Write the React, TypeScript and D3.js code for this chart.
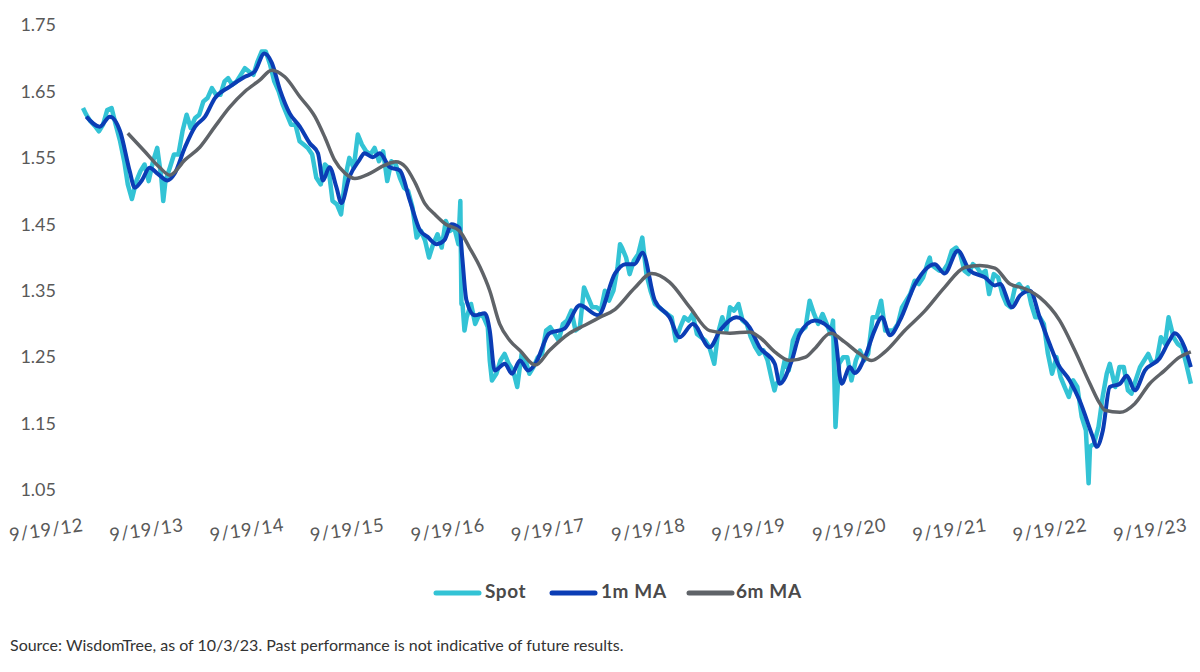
import React from 'react';
import * as d3 from 'd3';

// GBP/USD spot (roughly twice a month, plus spikes)
const spotDates = [
  '2012-09-19', '2012-10-01', '2012-10-16', '2012-11-01', '2012-11-16', '2012-12-01', '2012-12-16',
  '2013-01-01', '2013-01-16', '2013-02-01', '2013-02-16', '2013-03-01', '2013-03-16', '2013-04-01', '2013-04-16',
  '2013-05-01', '2013-05-16', '2013-06-01', '2013-06-16', '2013-07-01', '2013-07-08', '2013-07-16', '2013-08-01',
  '2013-08-16', '2013-09-01', '2013-09-16', '2013-10-01', '2013-10-16', '2013-11-01', '2013-11-16', '2013-12-01', '2013-12-16',
  '2014-01-01', '2014-01-16', '2014-02-01', '2014-02-16', '2014-03-01', '2014-03-16', '2014-04-01', '2014-04-16',
  '2014-05-01', '2014-05-16', '2014-06-01', '2014-06-16', '2014-07-01', '2014-07-16', '2014-08-01', '2014-08-16',
  '2014-09-01', '2014-09-16', '2014-10-01', '2014-10-16', '2014-11-01', '2014-11-16', '2014-12-01', '2014-12-16',
  '2015-01-01', '2015-01-16', '2015-02-01', '2015-02-16', '2015-03-01', '2015-03-16', '2015-04-01', '2015-04-16',
  '2015-05-01', '2015-05-16', '2015-06-01', '2015-06-16', '2015-07-01', '2015-07-16', '2015-08-01', '2015-08-16',
  '2015-09-01', '2015-09-16', '2015-10-01', '2015-10-16', '2015-11-01', '2015-11-16', '2015-12-01', '2015-12-16',
  '2016-01-01', '2016-01-16', '2016-02-01', '2016-02-16', '2016-03-01', '2016-03-16', '2016-04-01', '2016-04-16',
  '2016-05-01', '2016-05-16', '2016-06-01', '2016-06-16', '2016-06-23', '2016-06-27', '2016-07-01', '2016-07-08',
  '2016-07-16', '2016-08-01', '2016-08-16', '2016-09-01', '2016-09-16', '2016-10-01', '2016-10-08', '2016-10-16',
  '2016-11-01', '2016-11-16', '2016-12-01', '2016-12-16',
  '2017-01-01', '2017-01-16', '2017-02-01', '2017-02-16', '2017-03-01', '2017-03-16', '2017-04-01', '2017-04-16',
  '2017-05-01', '2017-05-16', '2017-06-01', '2017-06-16', '2017-07-01', '2017-07-16', '2017-08-01', '2017-08-16',
  '2017-09-01', '2017-09-16', '2017-10-01', '2017-10-16', '2017-11-01', '2017-11-16', '2017-12-01', '2017-12-16',
  '2018-01-01', '2018-01-16', '2018-01-25', '2018-02-01', '2018-02-16', '2018-03-01', '2018-03-16', '2018-04-01',
  '2018-04-16', '2018-05-01', '2018-05-16', '2018-06-01', '2018-06-16', '2018-07-01', '2018-07-16', '2018-08-01',
  '2018-08-16', '2018-09-01', '2018-09-16', '2018-10-01', '2018-10-16', '2018-11-01', '2018-11-16', '2018-12-01', '2018-12-16',
  '2019-01-03', '2019-01-16', '2019-02-01', '2019-02-16', '2019-03-01', '2019-03-16', '2019-04-01', '2019-04-16',
  '2019-05-01', '2019-05-16', '2019-06-01', '2019-06-16', '2019-07-01', '2019-07-16', '2019-08-01', '2019-08-10',
  '2019-08-16', '2019-09-01', '2019-09-16', '2019-10-01', '2019-10-16', '2019-11-01', '2019-11-16', '2019-12-01', '2019-12-16',
  '2020-01-01', '2020-01-16', '2020-02-01', '2020-02-16', '2020-03-01', '2020-03-10', '2020-03-19', '2020-03-25',
  '2020-04-01', '2020-04-16', '2020-05-01', '2020-05-16', '2020-06-01', '2020-06-16', '2020-07-01', '2020-07-16',
  '2020-08-01', '2020-08-16', '2020-09-01', '2020-09-16', '2020-10-01', '2020-10-16', '2020-11-01', '2020-11-16',
  '2020-12-01', '2020-12-16',
  '2021-01-01', '2021-01-16', '2021-02-01', '2021-02-16', '2021-02-25', '2021-03-01', '2021-03-16', '2021-04-01',
  '2021-04-16', '2021-05-01', '2021-05-16', '2021-06-01', '2021-06-16', '2021-07-01', '2021-07-16', '2021-08-01',
  '2021-08-16', '2021-09-01', '2021-09-16', '2021-09-29', '2021-10-16', '2021-11-01', '2021-11-16', '2021-12-01', '2021-12-16',
  '2022-01-01', '2022-01-16', '2022-02-01', '2022-02-16', '2022-03-01', '2022-03-16', '2022-04-01', '2022-04-16',
  '2022-05-01', '2022-05-16', '2022-06-01', '2022-06-16', '2022-07-01', '2022-07-16', '2022-08-01', '2022-08-16',
  '2022-09-01', '2022-09-16', '2022-09-26', '2022-10-01', '2022-10-16', '2022-11-01', '2022-11-16', '2022-12-01', '2022-12-12',
  '2023-01-01', '2023-01-16', '2023-02-01', '2023-02-16', '2023-03-01', '2023-03-16', '2023-04-01', '2023-04-16',
  '2023-05-01', '2023-05-16', '2023-06-01', '2023-06-16', '2023-07-01', '2023-07-14', '2023-08-01', '2023-08-16',
  '2023-09-01', '2023-09-16', '2023-10-03',
];
const spotValues = [
  1.625, 1.615, 1.605, 1.598, 1.59, 1.6, 1.622,
  1.625, 1.6, 1.575, 1.545, 1.51, 1.488, 1.515, 1.53,
  1.54, 1.515, 1.545, 1.565, 1.52, 1.485, 1.515, 1.535,
  1.555, 1.555, 1.59, 1.615, 1.595, 1.61, 1.615, 1.635, 1.64,
  1.655, 1.645, 1.645, 1.665, 1.67, 1.66, 1.665, 1.675,
  1.685, 1.68, 1.675, 1.695, 1.71, 1.71, 1.69, 1.665,
  1.65, 1.63, 1.615, 1.6, 1.6, 1.575, 1.57, 1.565,
  1.555, 1.52, 1.51, 1.54, 1.535, 1.485, 1.48, 1.465,
  1.52, 1.55, 1.535, 1.585, 1.57, 1.56, 1.555, 1.565,
  1.545, 1.56, 1.515, 1.545, 1.54, 1.52, 1.505, 1.5,
  1.475, 1.43, 1.44, 1.425, 1.4, 1.42, 1.435, 1.415,
  1.455, 1.44, 1.445, 1.42, 1.485, 1.33, 1.33, 1.29,
  1.31, 1.33, 1.3, 1.315, 1.31, 1.295, 1.245, 1.215,
  1.225, 1.245, 1.255, 1.24,
  1.23, 1.205, 1.255, 1.245, 1.225, 1.235, 1.25, 1.255,
  1.29, 1.295, 1.285, 1.275, 1.3, 1.305, 1.32, 1.29,
  1.295, 1.355, 1.34, 1.325, 1.325, 1.32, 1.35, 1.335,
  1.35, 1.385, 1.42, 1.415, 1.4, 1.375, 1.395, 1.405,
  1.43, 1.375, 1.35, 1.33, 1.325, 1.32, 1.315, 1.31,
  1.275, 1.295, 1.31, 1.305, 1.315, 1.285, 1.28, 1.275, 1.265,
  1.24, 1.285, 1.31, 1.29, 1.325, 1.32, 1.33, 1.305,
  1.3, 1.28, 1.265, 1.255, 1.26, 1.245, 1.215, 1.2,
  1.21, 1.215, 1.245, 1.23, 1.275, 1.29, 1.29, 1.295, 1.335,
  1.315, 1.3, 1.315, 1.3, 1.285, 1.305, 1.145, 1.19,
  1.24, 1.25, 1.25, 1.215, 1.245, 1.26, 1.245, 1.255,
  1.31, 1.31, 1.335, 1.29, 1.29, 1.29, 1.3, 1.325,
  1.335, 1.345,
  1.365, 1.36, 1.37, 1.39, 1.4, 1.39, 1.385, 1.38,
  1.38, 1.39, 1.41, 1.415, 1.405, 1.38, 1.375, 1.39,
  1.385, 1.375, 1.38, 1.345, 1.375, 1.37, 1.345, 1.33, 1.325,
  1.355, 1.36, 1.35, 1.355, 1.33, 1.31, 1.31, 1.3,
  1.255, 1.225, 1.25, 1.22, 1.205, 1.19, 1.215, 1.205,
  1.16, 1.14, 1.06, 1.115, 1.12, 1.145, 1.19, 1.225, 1.24,
  1.205, 1.235, 1.235, 1.2, 1.195, 1.215, 1.235, 1.245,
  1.255, 1.24, 1.245, 1.28, 1.27, 1.31, 1.28, 1.27,
  1.265, 1.24, 1.21,
];

// 1-month moving average
const ma1Dates = [
  '2012-10-01', '2012-11-19', '2012-12-26', '2013-02-01', '2013-03-08', '2013-03-26', '2013-04-21', '2013-05-19',
  '2013-06-18', '2013-07-24', '2013-08-18', '2013-09-25', '2013-11-01', '2013-12-07', '2014-01-12', '2014-03-06',
  '2014-05-01', '2014-06-06', '2014-07-11', '2014-08-07', '2014-09-06', '2014-10-11', '2014-11-17', '2014-12-23',
  '2015-01-22', '2015-02-09', '2015-03-05', '2015-03-30', '2015-04-17', '2015-05-16', '2015-06-22', '2015-07-10',
  '2015-08-09', '2015-09-04', '2015-10-10', '2015-11-16', '2015-12-22', '2016-01-28', '2016-02-25', '2016-03-29',
  '2016-04-26', '2016-05-22', '2016-06-20', '2016-06-30', '2016-07-15', '2016-08-14', '2016-09-20', '2016-10-08',
  '2016-10-26', '2016-12-02', '2016-12-28', '2017-01-26', '2017-02-25', '2017-03-23', '2017-05-13', '2017-07-07',
  '2017-09-01', '2017-11-06', '2018-01-07', '2018-02-13', '2018-03-19', '2018-04-17', '2018-05-31', '2018-07-24',
  '2018-08-30', '2018-10-17', '2018-12-17', '2019-01-24', '2019-03-25', '2019-05-11', '2019-06-17', '2019-08-11',
  '2019-08-29', '2019-10-12', '2019-11-10', '2020-01-04', '2020-02-20', '2020-03-16', '2020-04-10', '2020-05-10',
  '2020-05-28', '2020-07-04', '2020-08-08', '2020-09-04', '2020-10-03', '2020-11-08', '2021-01-03', '2021-03-15',
  '2021-04-20', '2021-06-07', '2021-07-21', '2021-09-14', '2021-10-20', '2021-11-08', '2021-12-21', '2022-01-20',
  '2022-02-25', '2022-04-01', '2022-05-07', '2022-06-06', '2022-07-19', '2022-08-24', '2022-10-11', '2022-10-25',
  '2022-11-17', '2022-12-12', '2023-01-18', '2023-02-12', '2023-03-13', '2023-04-19', '2023-06-11', '2023-07-17',
  '2023-08-05', '2023-09-11', '2023-10-03',
];
const ma1Values = [
  1.612, 1.597, 1.612, 1.59, 1.53, 1.505, 1.516, 1.535,
  1.526, 1.516, 1.526, 1.566, 1.597, 1.612, 1.64, 1.657,
  1.672, 1.68, 1.707, 1.693, 1.652, 1.617, 1.597, 1.572,
  1.557, 1.516, 1.536, 1.506, 1.482, 1.521, 1.547, 1.557,
  1.551, 1.557, 1.536, 1.531, 1.486, 1.441, 1.431, 1.42,
  1.426, 1.45, 1.444, 1.4, 1.336, 1.313, 1.316, 1.29,
  1.23, 1.24, 1.225, 1.245, 1.23, 1.24, 1.286, 1.293,
  1.328, 1.313, 1.376, 1.39, 1.39, 1.407, 1.336, 1.31,
  1.28, 1.3, 1.265, 1.29, 1.31, 1.295, 1.265, 1.24,
  1.21, 1.245, 1.285, 1.305, 1.296, 1.285, 1.21, 1.235,
  1.226, 1.25, 1.29, 1.31, 1.283, 1.305, 1.36, 1.39,
  1.376, 1.41, 1.38, 1.37, 1.358, 1.36, 1.325, 1.343,
  1.35, 1.31, 1.27, 1.24, 1.215, 1.185, 1.13, 1.115,
  1.14, 1.205, 1.21, 1.222, 1.2, 1.23, 1.248, 1.275,
  1.286, 1.264, 1.235,
];

// 6-month moving average
const ma6Dates = [
  '2013-03-01', '2013-05-01', '2013-06-24', '2013-08-01', '2013-09-25', '2013-11-18', '2014-01-12', '2014-03-06',
  '2014-05-01', '2014-06-24', '2014-08-07', '2014-09-23', '2014-11-17', '2015-01-11', '2015-02-16', '2015-03-23',
  '2015-04-30', '2015-06-05', '2015-08-01', '2015-09-22', '2015-11-01', '2015-12-07', '2016-01-11', '2016-02-15',
  '2016-03-22', '2016-05-01', '2016-06-20', '2016-07-26', '2016-09-02', '2016-10-08', '2016-11-13', '2016-12-20',
  '2017-01-26', '2017-03-23', '2017-05-13', '2017-07-25', '2017-09-19', '2017-11-13', '2018-01-07', '2018-03-19',
  '2018-05-20', '2018-07-24', '2018-10-06', '2018-12-17', '2019-03-01', '2019-05-11', '2019-06-17', '2019-08-11',
  '2019-10-04', '2019-12-01', '2020-01-04', '2020-03-01', '2020-04-21', '2020-06-15', '2020-07-28', '2020-09-15',
  '2020-11-26', '2021-02-08', '2021-04-20', '2021-07-02', '2021-08-26', '2021-10-20', '2021-12-14', '2022-02-07',
  '2022-04-01', '2022-06-13', '2022-08-07', '2022-10-01', '2022-11-06', '2022-11-24', '2023-01-18', '2023-03-13',
  '2023-05-06', '2023-06-30', '2023-08-23', '2023-10-03',
];
const ma6Values = [
  1.587, 1.56, 1.536, 1.524, 1.547, 1.566, 1.597, 1.626,
  1.65, 1.667, 1.682, 1.672, 1.642, 1.612, 1.581, 1.547,
  1.527, 1.519, 1.527, 1.539, 1.544, 1.536, 1.512, 1.481,
  1.465, 1.45, 1.44, 1.415, 1.386, 1.35, 1.3, 1.275,
  1.26, 1.238, 1.26, 1.286, 1.298, 1.31, 1.322, 1.354,
  1.376, 1.363, 1.325, 1.29, 1.286, 1.288, 1.28, 1.258,
  1.245, 1.25, 1.263, 1.286, 1.273, 1.255, 1.245, 1.258,
  1.29, 1.32, 1.355, 1.385, 1.388, 1.384, 1.36, 1.353,
  1.34, 1.305, 1.26, 1.21, 1.18, 1.17, 1.167, 1.18,
  1.21, 1.23, 1.25, 1.258,
];

const xTickDates = [
  '2012-09-19', '2013-09-19', '2014-09-19', '2015-09-19', '2016-09-19', '2017-09-19',
  '2018-09-19', '2019-09-19', '2020-09-19', '2021-09-19', '2022-09-19', '2023-09-19',
];
const xTickLabels = [
  '9/19/12', '9/19/13', '9/19/14', '9/19/15', '9/19/16', '9/19/17',
  '9/19/18', '9/19/19', '9/19/20', '9/19/21', '9/19/22', '9/19/23',
];
const yTicks = [1.05, 1.15, 1.25, 1.35, 1.45, 1.55, 1.65, 1.75];

const seriesNames = ['Spot', '1m MA', '6m MA'];
const seriesColors = ['#33C3D5', '#0B3DB5', '#5F6368'];

const parse = d3.timeParse('%Y-%m-%d');
const toPoints = (dates: string[], values: number[]) =>
  dates.map((d, i) => ({ date: parse(d) as Date, value: values[i] }));

const App: React.FC = () => {
  const width = 1200;
  const height = 672;
  const font = 'Lato, "Open Sans", sans-serif';

  const x = d3.scaleTime()
    .domain([parse('2012-09-19') as Date, parse('2023-09-19') as Date])
    .range([83, 1187]);
  const y = d3.scaleLinear().domain([1.05, 1.75]).range([490, 25]);

  const line = d3.line<{ date: Date; value: number }>()
    .x(d => x(d.date))
    .y(d => y(d.value));
  const smooth = d3.line<{ date: Date; value: number }>()
    .x(d => x(d.date))
    .y(d => y(d.value))
    .curve(d3.curveMonotoneX);

  const spot = toPoints(spotDates, spotValues);
  const ma1 = toPoints(ma1Dates, ma1Values);
  const ma6 = toPoints(ma6Dates, ma6Values);

  // legend layout
  const legendItems = [
    { x: 436, textX: 485 },
    { x: 552, textX: 601 },
    { x: 689, textX: 736 },
  ];

  return (
    <div style={{ position: 'absolute', left: 0, top: 0 }}>
      <svg width={width} height={height} style={{ display: 'block', background: '#fff' }}>
        {/* y axis labels */}
        {yTicks.map(t => (
          <text key={t} x={56} y={y(t)} dy="0.35em" textAnchor="end"
            fontFamily={font} fontSize={18} fill="#595959">
            {t.toFixed(2)}
          </text>
        ))}

        {/* x axis labels, slightly tilted */}
        {xTickDates.map((d, i) => {
          const tx = x(parse(d) as Date);
          return (
            <text key={d} transform={`translate(${tx + 1},531) rotate(-8)`} textAnchor="end"
              fontFamily={font} fontSize={18.5} letterSpacing={0.6} fill="#595959">
              {xTickLabels[i]}
            </text>
          );
        })}

        <path d={line(spot) || ''} fill="none" stroke={seriesColors[0]} strokeWidth={4.5} strokeLinejoin="round" />
        <path d={smooth(ma1) || ''} fill="none" stroke={seriesColors[1]} strokeWidth={4} strokeLinejoin="round" />
        <path d={smooth(ma6) || ''} fill="none" stroke={seriesColors[2]} strokeWidth={3.5} strokeLinejoin="round" />

        {/* legend */}
        {seriesNames.map((name, i) => (
          <g key={name}>
            <line x1={legendItems[i].x} x2={legendItems[i].x + 43} y1={593} y2={593}
              stroke={seriesColors[i]} strokeWidth={5} strokeLinecap="round" />
            <text x={legendItems[i].textX} y={598} fontFamily={font} fontSize={19}
              fontWeight="bold" letterSpacing={0.6} fill="#4a4a4a">
              {name}
            </text>
          </g>
        ))}

        <text x={10} y={651} fontFamily={font} fontSize={16} fill="#333">
          Source: WisdomTree, as of 10/3/23. Past performance is not indicative of future results.
        </text>
      </svg>
    </div>
  );
};

export default App;
